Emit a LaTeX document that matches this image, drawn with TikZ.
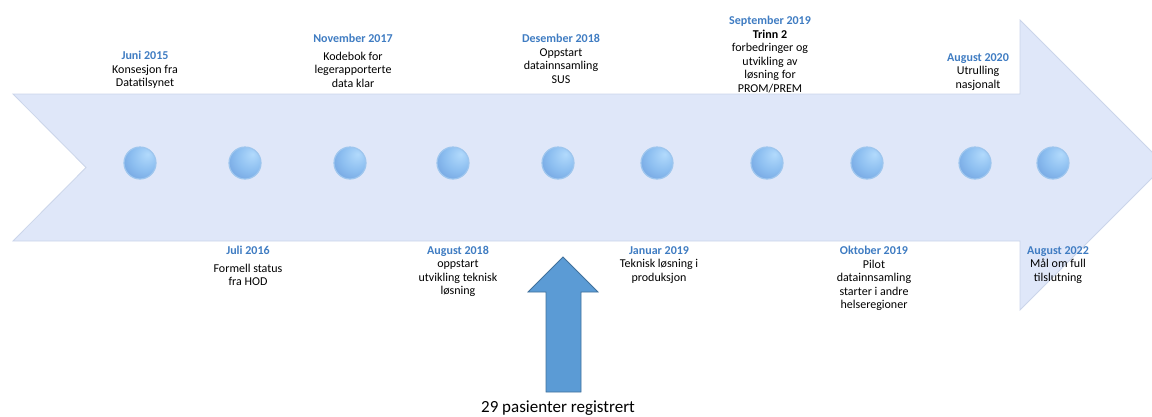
\documentclass[tikz,border=0pt]{standalone}
\usepackage{fontspec}
\setmainfont{Carlito}

\definecolor{bandfill}{HTML}{DFE7F9}
\definecolor{bandedge}{HTML}{CBD5EA}
\definecolor{dotedge}{HTML}{9EC6EE}
\definecolor{datecol}{HTML}{3F7CC2}
\definecolor{bigarrow}{HTML}{5B9BD5}
\definecolor{bigedge}{HTML}{41719C}

\pgfdeclareradialshading{sphere}{\pgfpoint{12bp}{14bp}}{%
    color(0bp)=(rgb,255:red,178;green,218;blue,252);
    color(22bp)=(rgb,255:red,140;green,190;blue,240);
    color(50bp)=(rgb,255:red,98;green,146;blue,214);
    color(70bp)=(rgb,255:red,82;green,128;blue,200)}

\newcommand{\when}[1]{\textcolor{datecol}{\textbf{#1}}}

\begin{document}
\begin{tikzpicture}[x=1pt,y=-1pt,
    dot/.style={circle,minimum size=32pt,inner sep=0pt,shading=sphere,draw=dotedge,line width=1.2pt},
    event/.style={align=center,inner sep=0pt,anchor=north,font=\fontsize{12}{13.5}\selectfont}]
    \path[use as bounding box] (0,0) rectangle (1152,416);
    \clip (0,0) rectangle (1152,416);
    % the timeline band
    \draw [fill=bandfill, draw=bandedge, line width=.8pt] (13,94) -- (1020,94) -- (1020,20) -- (1165,165)
        -- (1020,310) -- (1020,241) -- (13,241) -- (86,167.5) -- cycle;
    % milestones
    \node[dot] (m1) at (140,163) {};
    \node[dot] (m2) at (245,163) {};
    \node[dot] (m3) at (350,163) {};
    \node[dot] (m4) at (453,163) {};
    \node[dot] (m5) at (558,163) {};
    \node[dot] (m6) at (657,163) {};
    \node[dot] (m7) at (767,163) {};
    \node[dot] (m8) at (867,163) {};
    \node[dot] (m9) at (975,163) {};
    \node[dot] (m10) at (1053,163) {};
    % labels above
    \node[event] (e1) at (145,51) {\when{Juni 2015}\\Konsesjon fra\\Datatilsynet};
    \node[event] (e3) at (353,34) {\when{November 2017}\\[4pt]Kodebok for\\legerapporterte\\data klar};
    \node[event] (e5) at (561,34) {\when{Desember 2018}\\Oppstart\\datainnsamling\\SUS};
    \node[event] (e7) at (770,16) {\when{September 2019}\\\textbf{Trinn 2}\\forbedringer og\\utvikling av\\løsning for\\PROM/PREM};
    \node[event] (e9) at (978,53) {\when{August 2020}\\Utrulling\\nasjonalt};
    % labels below
    \node[event] (e2) at (248,246) {\when{Juli 2016}\\[4pt]Formell status\\fra HOD};
    \node[event] (e4) at (458,246) {\when{August 2018}\\oppstart\\utvikling teknisk\\løsning};
    \node[event] (e6) at (659,246) {\when{Januar 2019}\\Teknisk løsning i\\produksjon};
    \node[event] (e8) at (874,246) {\when{Oktober 2019}\\Pilot\\datainnsamling\\starter i andre\\helseregioner};
    \node[event] (e10) at (1058,246) {\when{August 2022}\\Mål om full\\tilslutning};
    % patient count
    \draw [fill=bigarrow, draw=bigedge, line width=.8pt] (546,392) -- (546,292) -- (528,292) -- (563,257)
        -- (598,292) -- (581,292) -- (581,392) -- cycle;
    \node[inner sep=0pt, font=\fontsize{17}{20}\selectfont] (count) at (558,408) {29 pasienter registrert};
\end{tikzpicture}
\end{document}
